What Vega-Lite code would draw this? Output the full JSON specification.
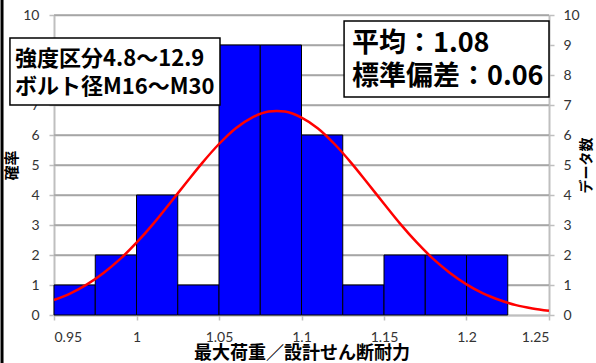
{
  "$schema": "https://vega.github.io/schema/vega-lite/v6.json",
  "width": 495,
  "height": 300,
  "autosize": "none",
  "padding": {"left": 54, "top": 15, "right": 47, "bottom": 48},
  "background": "white",
  "config": {
    "view": {"stroke": null},
    "axis": {
      "labelFont": "Lato",
      "labelFontSize": 14,
      "labelColor": "#333333",
      "domainColor": "#BFBFBF",
      "domainWidth": 2,
      "tickColor": "#BFBFBF",
      "tickWidth": 1.5,
      "gridColor": "#A6A6A6",
      "gridWidth": 1.5,
      "titleFont": "Noto Sans CJK JP",
      "titleFontWeight": "bold",
      "titleColor": "#000000"
    },
    "axisX": {"grid": false, "tickSize": 5, "labelPadding": 10, "titlePadding": 0}
  },
  "datasets": {
    "bins": [
      {"start": 0.95, "end": 0.975, "count": 1},
      {"start": 0.975, "end": 1.0, "count": 2},
      {"start": 1.0, "end": 1.025, "count": 4},
      {"start": 1.025, "end": 1.05, "count": 1},
      {"start": 1.05, "end": 1.075, "count": 9},
      {"start": 1.075, "end": 1.1, "count": 9},
      {"start": 1.1, "end": 1.125, "count": 6},
      {"start": 1.125, "end": 1.15, "count": 1},
      {"start": 1.15, "end": 1.175, "count": 2},
      {"start": 1.175, "end": 1.2, "count": 2},
      {"start": 1.2, "end": 1.225, "count": 2}
    ],
    "gridlines": [
      {"v": 1}, {"v": 2}, {"v": 3}, {"v": 4}, {"v": 5},
      {"v": 6}, {"v": 7}, {"v": 8}, {"v": 9}, {"v": 10}
    ],
    "curve": [
      {"x": 0.95, "y": 0.50}, {"x": 0.96, "y": 0.72}, {"x": 0.97, "y": 1.02},
      {"x": 0.98, "y": 1.40}, {"x": 0.99, "y": 1.86}, {"x": 1.00, "y": 2.41},
      {"x": 1.01, "y": 3.03}, {"x": 1.02, "y": 3.71}, {"x": 1.03, "y": 4.40},
      {"x": 1.04, "y": 5.08}, {"x": 1.05, "y": 5.70}, {"x": 1.06, "y": 6.22},
      {"x": 1.07, "y": 6.58}, {"x": 1.08, "y": 6.78}, {"x": 1.085, "y": 6.80},
      {"x": 1.09, "y": 6.78}, {"x": 1.10, "y": 6.58}, {"x": 1.11, "y": 6.22},
      {"x": 1.12, "y": 5.70}, {"x": 1.13, "y": 5.08}, {"x": 1.14, "y": 4.40},
      {"x": 1.15, "y": 3.71}, {"x": 1.16, "y": 3.03}, {"x": 1.17, "y": 2.41},
      {"x": 1.18, "y": 1.86}, {"x": 1.19, "y": 1.40}, {"x": 1.20, "y": 1.02},
      {"x": 1.21, "y": 0.72}, {"x": 1.22, "y": 0.50}, {"x": 1.23, "y": 0.33},
      {"x": 1.24, "y": 0.22}, {"x": 1.25, "y": 0.14}
    ]
  },
  "layer": [
    {
      "data": {"name": "gridlines"},
      "mark": {"type": "rule", "color": "#A6A6A6", "strokeWidth": 1.5},
      "encoding": {
        "x": {
          "datum": 0.95, "type": "quantitative",
          "scale": {"domain": [0.95, 1.25], "nice": false, "zero": false},
          "axis": {
            "values": [0.95, 1.0, 1.05, 1.1, 1.15, 1.2, 1.25],
            "format": ".2~f",
            "grid": false,
            "tickSize": 5,
            "labelPadding": 10,
            "title": "最大荷重／設計せん断耐力",
            "titleFontSize": 18,
            "titlePadding": 0
          }
        },
        "x2": {"datum": 1.25},
        "y": {
          "field": "v", "type": "quantitative",
          "scale": {"domain": [0, 10], "nice": false},
          "axis": {
            "values": [0, 1, 2, 3, 4, 5, 6, 7, 8, 9, 10],
            "grid": true,
            "tickSize": 5,
            "labelPadding": 10,
            "title": "確率",
            "titleFontSize": 15,
            "titlePadding": 3
          }
        }
      }
    },
    {
      "data": {"name": "bins"},
      "mark": {"type": "rect", "color": "#0000FF", "stroke": "#000000", "strokeWidth": 1},
      "encoding": {
        "x": {"field": "start", "type": "quantitative"},
        "x2": {"field": "end"},
        "y": {"field": "count", "type": "quantitative", "axis": null},
        "y2": {"datum": 0}
      }
    },
    {
      "data": {"name": "curve"},
      "mark": {"type": "line", "color": "#FF0000", "strokeWidth": 2.5, "interpolate": "monotone"},
      "encoding": {
        "x": {"field": "x", "type": "quantitative"},
        "y": {
          "field": "y", "type": "quantitative",
          "axis": {
            "orient": "right",
            "values": [0, 1, 2, 3, 4, 5, 6, 7, 8, 9, 10],
            "grid": false,
            "tickSize": 5,
            "labelPadding": 9,
            "title": "データ数",
            "titleAngle": 270,
            "titleFontSize": 14,
            "titlePadding": 14
          }
        }
      }
    },
    {
      "data": {"values": [{"frame": "left"}]},
      "mark": {"type": "rule", "color": "#000000", "strokeWidth": 3, "clip": false},
      "encoding": {
        "x": {"datum": 0.9185},
        "y": {"datum": -1.6, "axis": null},
        "y2": {"datum": 10.5}
      }
    },
    {
      "data": {"values": [{"box": "conditions"}]},
      "mark": {"type": "rect", "fill": "white", "stroke": "#000000", "strokeWidth": 1.5, "clip": false},
      "encoding": {
        "x": {"datum": 0.9233},
        "x2": {"datum": 1.0506},
        "y": {"datum": 9.233, "axis": null},
        "y2": {"datum": 7.0}
      }
    },
    {
      "data": {"values": [{"box": "stats"}]},
      "mark": {"type": "rect", "fill": "white", "stroke": "#000000", "strokeWidth": 1.5, "clip": false},
      "encoding": {
        "x": {"datum": 1.1258},
        "x2": {"datum": 1.25},
        "y": {"datum": 9.8, "axis": null},
        "y2": {"datum": 7.267}
      }
    },
    {
      "data": {"values": [{"label": "強度区分4.8～12.9"}]},
      "mark": {"type": "text", "font": "Noto Sans CJK JP", "fontWeight": "bold", "fontSize": 22, "align": "left", "baseline": "middle", "color": "#000000", "clip": false},
      "encoding": {"x": {"datum": 0.9264}, "y": {"datum": 8.533, "axis": null}, "text": {"field": "label"}}
    },
    {
      "data": {"values": [{"label": "ボルト径M16～M30"}]},
      "mark": {"type": "text", "font": "Noto Sans CJK JP", "fontWeight": "bold", "fontSize": 22, "align": "left", "baseline": "middle", "color": "#000000", "clip": false},
      "encoding": {"x": {"datum": 0.9264}, "y": {"datum": 7.6, "axis": null}, "text": {"field": "label"}}
    },
    {
      "data": {"values": [{"label": "平均：1.08"}]},
      "mark": {"type": "text", "font": "Noto Sans CJK JP", "fontWeight": "bold", "fontSize": 27, "align": "left", "baseline": "middle", "color": "#000000", "clip": false},
      "encoding": {"x": {"datum": 1.1306}, "y": {"datum": 9.05, "axis": null}, "text": {"field": "label"}}
    },
    {
      "data": {"values": [{"label": "標準偏差：0.06"}]},
      "mark": {"type": "text", "font": "Noto Sans CJK JP", "fontWeight": "bold", "fontSize": 27, "align": "left", "baseline": "middle", "color": "#000000", "clip": false},
      "encoding": {"x": {"datum": 1.1306}, "y": {"datum": 7.943, "axis": null}, "text": {"field": "label"}}
    }
  ],
  "resolve": {"axis": {"y": "independent"}}
}
